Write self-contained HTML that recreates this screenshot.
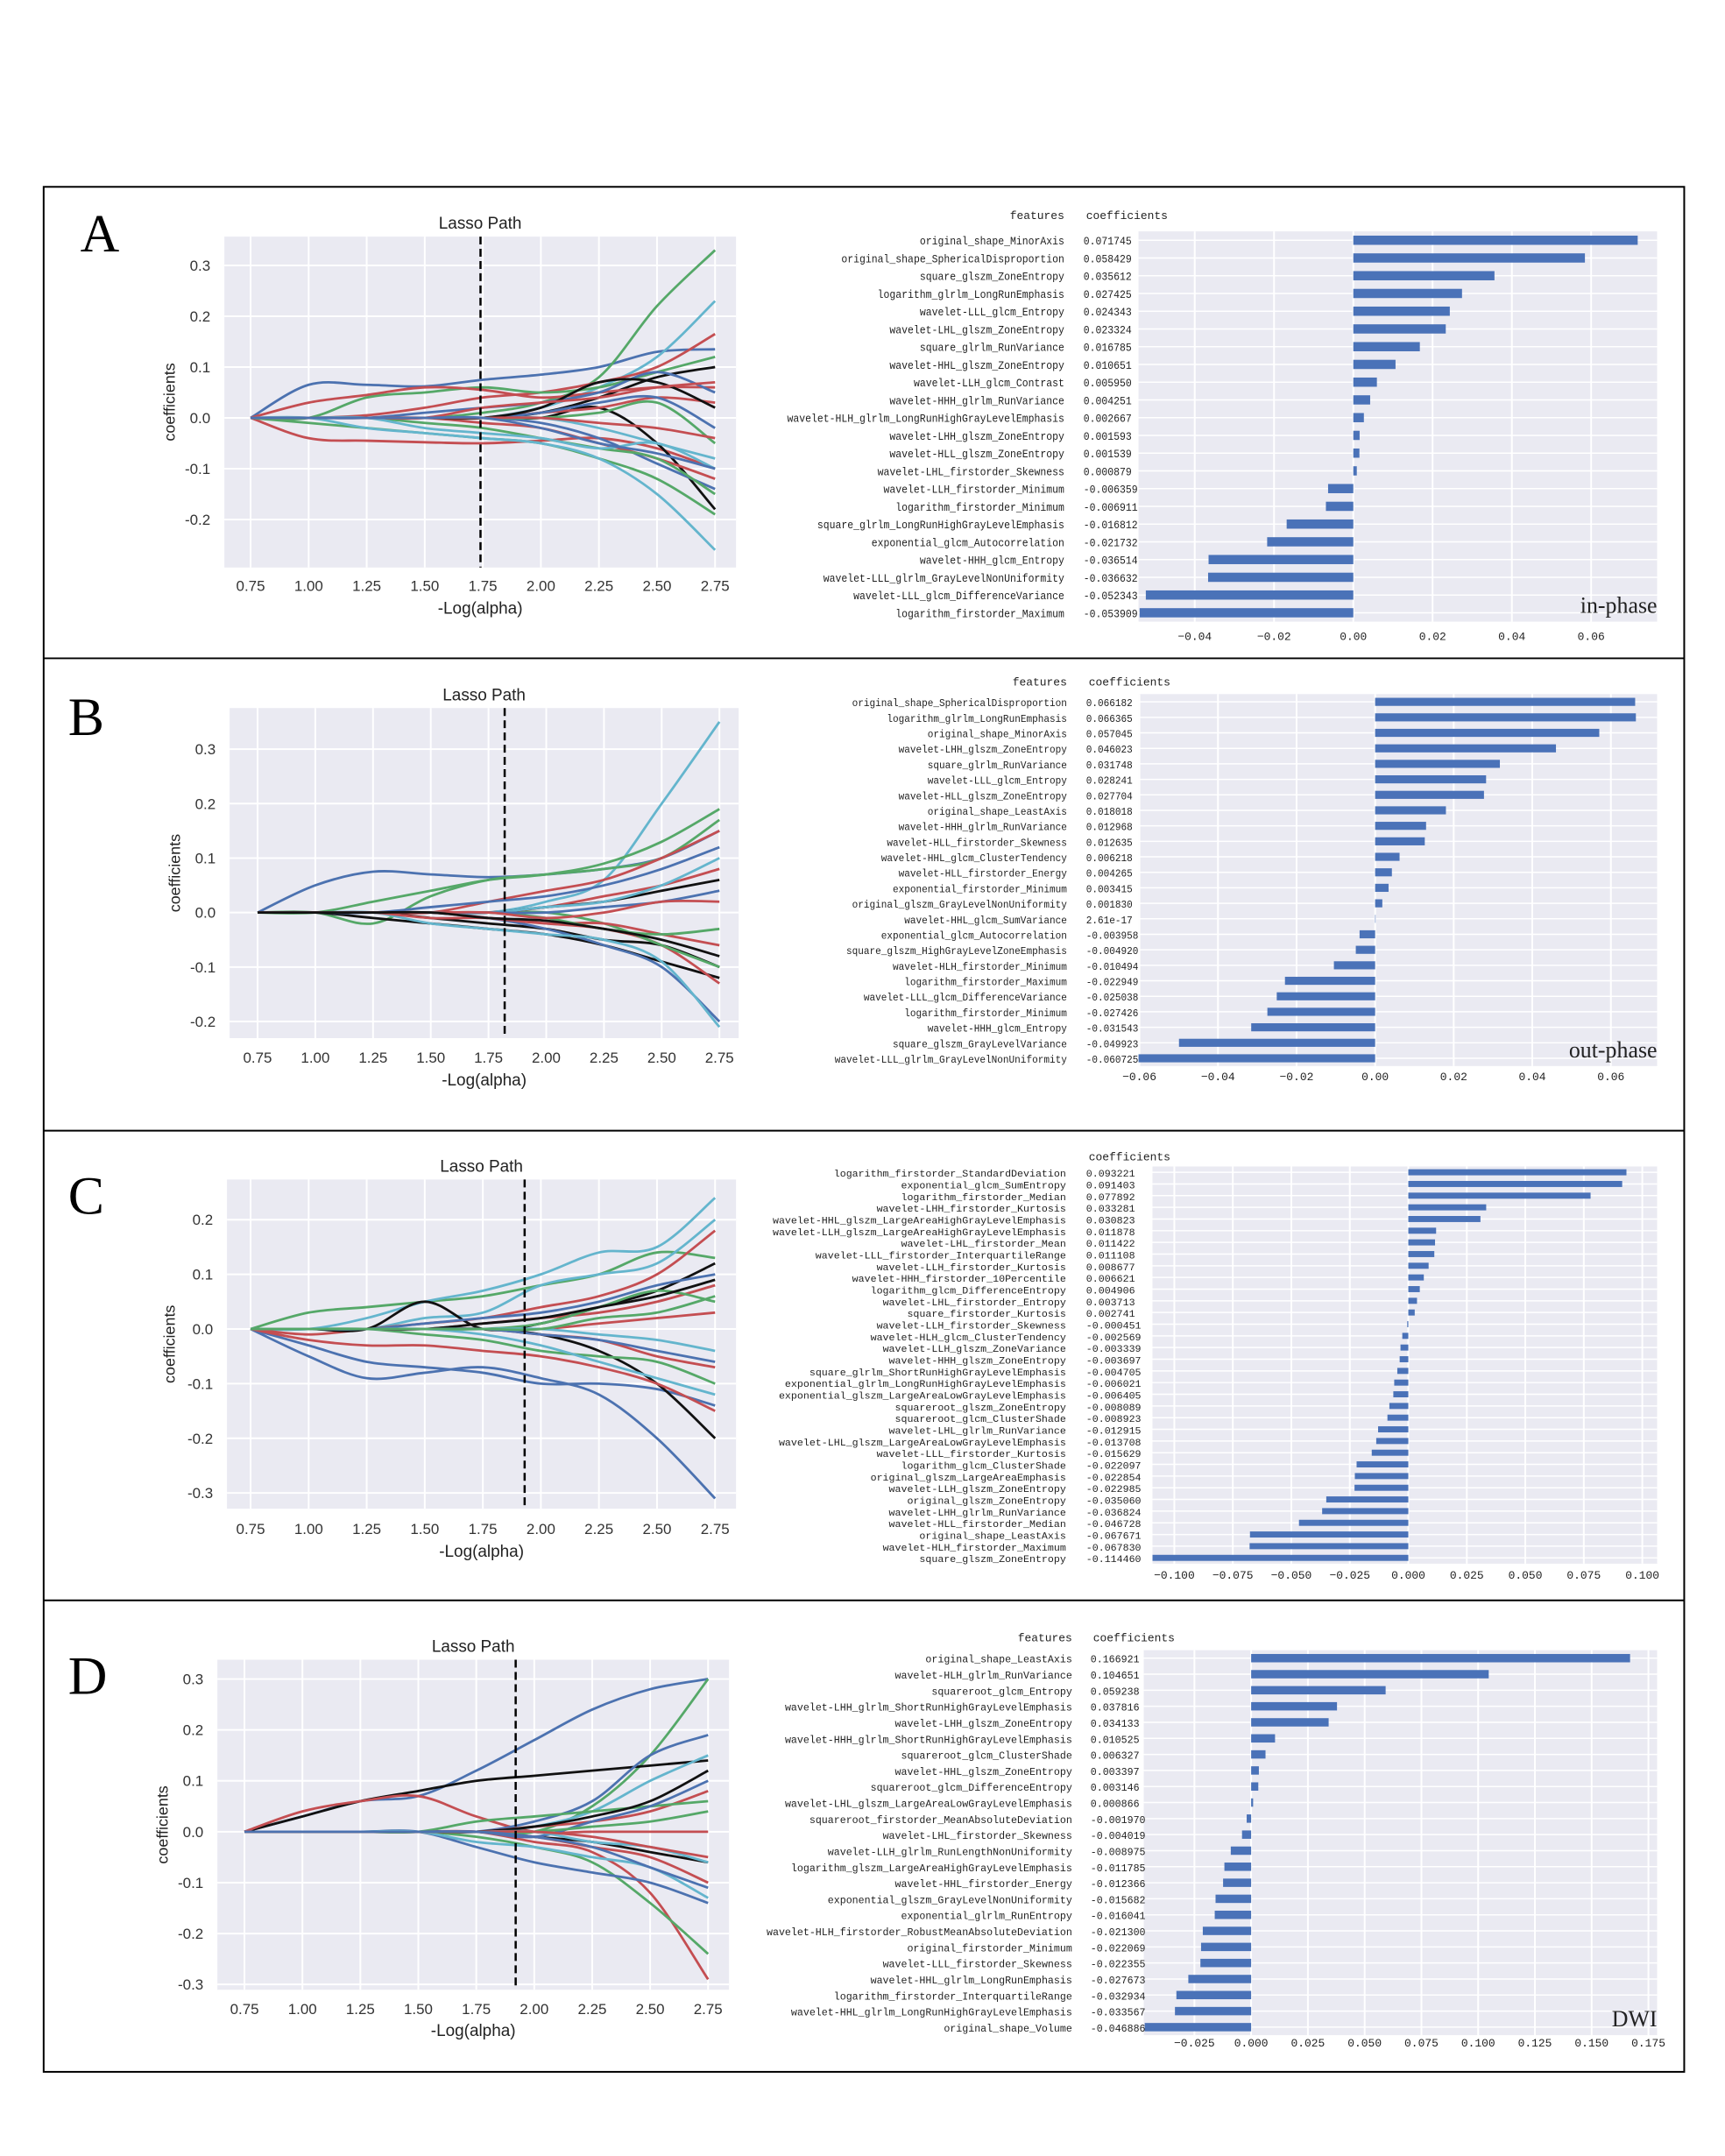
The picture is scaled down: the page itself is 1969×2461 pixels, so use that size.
<!DOCTYPE html>
<html><head><meta charset="utf-8"><style>
html,body{margin:0;padding:0;background:#fff;}
svg{display:block;}
</style></head><body>
<svg xmlns="http://www.w3.org/2000/svg" width="1969" height="2461" viewBox="0 0 1969 2461">
<rect x="0" y="0" width="1969" height="2461" fill="#fff"/>
<g id="fig" transform="scale(0.9966)">
<rect x="50" y="214" width="1879" height="2159" fill="none" stroke="#000" stroke-width="2"/>
<line x1="50" y1="754" x2="1929" y2="754" stroke="#000" stroke-width="2"/>
<line x1="50" y1="1295" x2="1929" y2="1295" stroke="#000" stroke-width="2"/>
<line x1="50" y1="1833" x2="1929" y2="1833" stroke="#000" stroke-width="2"/>
<text x="92" y="288" font-family="Liberation Serif, serif" font-size="62">A</text>
<text x="78" y="842" font-family="Liberation Serif, serif" font-size="62">B</text>
<text x="78" y="1390" font-family="Liberation Serif, serif" font-size="62">C</text>
<text x="78" y="1940" font-family="Liberation Serif, serif" font-size="62">D</text>
</g>
</svg>
<script>
const lassoX = [0.75,1.0,1.25,1.5,1.75,2.0,2.25,2.5,2.75];
const aColors = ['b','g','l','r','g','k','r','r','g','l','k','b','b','r','r','g','l','b','k','r','g','l','r','b'];
const aPaths = [
[0,0.065,0.065,0.062,0.075,0.085,0.1,0.13,0.135],[0,0,0,0,0.01,0.03,0.08,0.22,0.33],[0,0,0,0,0,0.02,0.06,0.12,0.23],
[0,0,0.005,0.02,0.04,0.05,0.07,0.1,0.165],[0,0,0.04,0.05,0.06,0.05,0.06,0.09,0.12],[0,0,0,0,0,0.01,0.04,0.08,0.1],
[0,0.03,0.045,0.06,0.055,0.04,0.05,0.06,0.06],[0,-0.04,-0.045,-0.048,-0.05,-0.045,-0.04,-0.06,-0.1],[0,-0.01,-0.02,-0.03,-0.04,-0.05,-0.08,-0.12,-0.19],
[0,0,-0.02,-0.03,-0.04,-0.05,-0.08,-0.15,-0.26],[0,0,0,0,0,0,0.02,-0.05,-0.18],[0,0,0,0,0,-0.01,-0.04,-0.09,-0.14],
[0,0,0,0.01,0.02,0.03,0.05,0.09,0.05],[0,0,0,0,0,0.01,0.02,0.04,0.03],[0,0,0,0,-0.01,-0.02,-0.05,-0.08,-0.12],
[0,0,0,-0.01,-0.02,-0.04,-0.06,-0.08,-0.15],[0,0,0,0,0,0,-0.02,-0.05,-0.08],[0,0,0,0,0,0.01,0.03,0.04,-0.02],
[0,0,0,0,0,0.02,0.07,0.07,0.02],[0,0,0,0,0.02,0.03,0.04,0.06,0.07],[0,0,0,0,0,0,0.01,0.03,-0.05],
[0,0,0,-0.02,-0.03,-0.04,-0.06,-0.05,-0.1],[0,0,0,0,0,0,-0.01,-0.02,-0.04],[0,0,0,0,0,-0.02,-0.05,-0.07,-0.1]];
const bColors = ['b','l','g','g','r','k','k','b','l','r','g','r','b','k','r','l','g','b','r','k'];
const bPaths = [
[0,0.05,0.075,0.07,0.065,0.07,0.08,0.1,0.15],[0,0,0,0,0,0.02,0.06,0.2,0.35],[0,0,0.02,0.04,0.06,0.07,0.09,0.13,0.19],
[0,0,-0.02,0.03,0.06,0.07,0.08,0.1,0.17],[0,0,0,0,0.02,0.04,0.06,0.1,0.15],[0,0,-0.01,-0.02,-0.03,-0.04,-0.06,-0.09,-0.12],
[0,0,0,-0.01,-0.02,-0.03,-0.05,-0.06,-0.1],[0,0,0,0,-0.01,-0.03,-0.06,-0.1,-0.2],[0,0,0,-0.02,-0.03,-0.04,-0.05,-0.09,-0.21],
[0,0,0,-0.01,-0.01,-0.02,-0.03,-0.06,-0.13],[0,0,0,0,0,0,-0.02,-0.06,-0.1],[0,0,0,0,0,0.01,0.03,0.05,0.08],
[0,0,0,0.01,0.02,0.03,0.05,0.08,0.12],[0,0,0,0,0,0.01,0.02,0.04,0.06],[0,0,0,0,-0.01,-0.02,-0.02,-0.04,-0.06],
[0,0,0,0,0,0.01,0.02,0.05,0.1],[0,0,0,0,0,-0.01,-0.03,-0.04,-0.03],[0,0,0,0,0,0,0.01,0.02,0.04],
[0,0,0,0,0,-0.01,0,0.02,0.02],[0,0,0,0,-0.01,-0.015,-0.03,-0.05,-0.08]];
const cColors = ['b','b','g','l','l','r','k','k','r','g','r','b','l','r','g','k','b','r','l','g'];
const cPaths = [
[0,-0.05,-0.09,-0.08,-0.07,-0.09,-0.12,-0.2,-0.31],[0,-0.03,-0.06,-0.07,-0.08,-0.1,-0.1,-0.11,-0.14],[0,0.03,0.04,0.05,0.06,0.08,0.1,0.14,0.13],
[0,0,0.02,0.05,0.07,0.1,0.14,0.15,0.24],[0,0,0,0.02,0.03,0.08,0.1,0.12,0.2],[0,-0.01,0,0.01,0.02,0.04,0.06,0.1,0.18],
[0,0,0,0.05,0,0.01,0.04,0.07,0.12],[0,0,0,0,0,-0.01,-0.04,-0.1,-0.2],[0,-0.02,-0.03,-0.03,-0.04,-0.05,-0.07,-0.1,-0.15],
[0,0,0,-0.01,-0.02,-0.04,-0.05,-0.06,-0.1],[0,0,0,0,0.01,0.02,0.03,0.05,0.08],[0,0,0,0.01,0.02,0.03,0.05,0.08,0.1],
[0,0,0,0,-0.01,-0.03,-0.06,-0.09,-0.12],[0,0,0,0,0,-0.01,-0.02,-0.05,-0.07],[0,0,0,0,0,0.01,0.04,0.07,0.05],
[0,0,0,0,0.01,0.02,0.04,0.06,0.09],[0,0,0,0,0,-0.01,-0.02,-0.04,-0.06],[0,0,0,0,0,0,0.01,0.02,0.03],
[0,0,0,0,0,0,-0.01,-0.02,-0.04],[0,0,0,0,0,0,0.02,0.03,0.06]];
const dColors = ['b','g','k','r','b','l','r','g','b','l','k','r','g','b','r','k','l','g','r','b'];
const dPaths = [
[0,0.03,0.06,0.07,0.12,0.18,0.24,0.28,0.3],[0,0,0,0,0,0,0.05,0.15,0.3],[0,0.03,0.06,0.08,0.1,0.11,0.12,0.13,0.14],
[0,0.04,0.06,0.07,0.03,0,0,0,0],[0,0,0,0,0,0.02,0.06,0.15,0.19],[0,0,0,0,0,0.01,0.04,0.1,0.15],
[0,0,0,0,0,-0.02,-0.04,-0.12,-0.29],[0,0,0,0,-0.01,-0.03,-0.06,-0.14,-0.24],[0,0,0,0,-0.03,-0.06,-0.08,-0.1,-0.14],
[0,0,0,0,-0.02,-0.03,-0.05,-0.07,-0.13],[0,0,0,0,0,-0.01,-0.02,-0.04,-0.06],[0,0,0,0,0,0.01,0.02,0.04,0.08],
[0,0,0,0,0.02,0.03,0.04,0.05,0.06],[0,0,0,0,0,-0.01,0.02,0.05,0.1],[0,0,0,0,0,-0.01,-0.03,-0.05,-0.1],
[0,0,0,0,0,0.01,0.03,0.06,0.12],[0,0,0,0,0,0,-0.02,-0.03,-0.06],[0,0,0,0,0,0,0.01,0.02,0.04],
[0,0,0,0,0,0,-0.01,-0.03,-0.05],[0,0,0,0,0,-0.01,-0.03,-0.07,-0.11]];
const lassoXTicks = [0.75,1.0,1.25,1.5,1.75,2.0,2.25,2.5,2.75];
const aYTicks = [-0.2,-0.1,0.0,0.1,0.2,0.3];
const bYTicks = [-0.2,-0.1,0.0,0.1,0.2,0.3];
const cYTicks = [-0.3,-0.2,-0.1,0.0,0.1,0.2];
const dYTicks = [-0.3,-0.2,-0.1,0.0,0.1,0.2,0.3];
const alphaCut = [1.74,1.82,1.93,1.92];

const aFeatures = ['original_shape_MinorAxis','original_shape_SphericalDisproportion','square_glszm_ZoneEntropy','logarithm_glrlm_LongRunEmphasis','wavelet-LLL_glcm_Entropy','wavelet-LHL_glszm_ZoneEntropy','square_glrlm_RunVariance','wavelet-HHL_glszm_ZoneEntropy','wavelet-LLH_glcm_Contrast','wavelet-HHH_glrlm_RunVariance','wavelet-HLH_glrlm_LongRunHighGrayLevelEmphasis','wavelet-LHH_glszm_ZoneEntropy','wavelet-HLL_glszm_ZoneEntropy','wavelet-LHL_firstorder_Skewness','wavelet-LLH_firstorder_Minimum','logarithm_firstorder_Minimum','square_glrlm_LongRunHighGrayLevelEmphasis','exponential_glcm_Autocorrelation','wavelet-HHH_glcm_Entropy','wavelet-LLL_glrlm_GrayLevelNonUniformity','wavelet-LLL_glcm_DifferenceVariance','logarithm_firstorder_Maximum'];
const aCoefs = [0.071745,0.058429,0.035612,0.027425,0.024343,0.023324,0.016785,0.010651,0.005950,0.004251,0.002667,0.001593,0.001539,0.000879,-0.006359,-0.006911,-0.016812,-0.021732,-0.036514,-0.036632,-0.052343,-0.053909];
const bFeatures = ['original_shape_SphericalDisproportion','logarithm_glrlm_LongRunEmphasis','original_shape_MinorAxis','wavelet-LHH_glszm_ZoneEntropy','square_glrlm_RunVariance','wavelet-LLL_glcm_Entropy','wavelet-HLL_glszm_ZoneEntropy','original_shape_LeastAxis','wavelet-HHH_glrlm_RunVariance','wavelet-HLL_firstorder_Skewness','wavelet-HHL_glcm_ClusterTendency','wavelet-HLL_firstorder_Energy','exponential_firstorder_Minimum','original_glszm_GrayLevelNonUniformity','wavelet-HHL_glcm_SumVariance','exponential_glcm_Autocorrelation','square_glszm_HighGrayLevelZoneEmphasis','wavelet-HLH_firstorder_Minimum','logarithm_firstorder_Maximum','wavelet-LLL_glcm_DifferenceVariance','logarithm_firstorder_Minimum','wavelet-HHH_glcm_Entropy','square_glszm_GrayLevelVariance','wavelet-LLL_glrlm_GrayLevelNonUniformity'];
const bCoefs = [0.066182,0.066365,0.057045,0.046023,0.031748,0.028241,0.027704,0.018018,0.012968,0.012635,0.006218,0.004265,0.003415,0.001830,2.61e-17,-0.003958,-0.004920,-0.010494,-0.022949,-0.025038,-0.027426,-0.031543,-0.049923,-0.060725];
const bLabels = ['0.066182','0.066365','0.057045','0.046023','0.031748','0.028241','0.027704','0.018018','0.012968','0.012635','0.006218','0.004265','0.003415','0.001830','2.61e-17','-0.003958','-0.004920','-0.010494','-0.022949','-0.025038','-0.027426','-0.031543','-0.049923','-0.060725'];
const cFeatures = ['logarithm_firstorder_StandardDeviation','exponential_glcm_SumEntropy','logarithm_firstorder_Median','wavelet-LHH_firstorder_Kurtosis','wavelet-HHL_glszm_LargeAreaHighGrayLevelEmphasis','wavelet-LLH_glszm_LargeAreaHighGrayLevelEmphasis','wavelet-LHL_firstorder_Mean','wavelet-LLL_firstorder_InterquartileRange','wavelet-LLH_firstorder_Kurtosis','wavelet-HHH_firstorder_10Percentile','logarithm_glcm_DifferenceEntropy','wavelet-LHL_firstorder_Entropy','square_firstorder_Kurtosis','wavelet-LLH_firstorder_Skewness','wavelet-HLH_glcm_ClusterTendency','wavelet-LLH_glszm_ZoneVariance','wavelet-HHH_glszm_ZoneEntropy','square_glrlm_ShortRunHighGrayLevelEmphasis','exponential_glrlm_LongRunHighGrayLevelEmphasis','exponential_glszm_LargeAreaLowGrayLevelEmphasis','squareroot_glszm_ZoneEntropy','squareroot_glcm_ClusterShade','wavelet-LHL_glrlm_RunVariance','wavelet-LHL_glszm_LargeAreaLowGrayLevelEmphasis','wavelet-LLL_firstorder_Kurtosis','logarithm_glcm_ClusterShade','original_glszm_LargeAreaEmphasis','wavelet-LLH_glszm_ZoneEntropy','original_glszm_ZoneEntropy','wavelet-LHH_glrlm_RunVariance','wavelet-HLL_firstorder_Median','original_shape_LeastAxis','wavelet-HLH_firstorder_Maximum','square_glszm_ZoneEntropy'];
const cCoefs = [0.093221,0.091403,0.077892,0.033281,0.030823,0.011878,0.011422,0.011108,0.008677,0.006621,0.004906,0.003713,0.002741,-0.000451,-0.002569,-0.003339,-0.003697,-0.004705,-0.006021,-0.006405,-0.008089,-0.008923,-0.012915,-0.013708,-0.015629,-0.022097,-0.022854,-0.022985,-0.035060,-0.036824,-0.046728,-0.067671,-0.067830,-0.114460];
const dFeatures = ['original_shape_LeastAxis','wavelet-HLH_glrlm_RunVariance','squareroot_glcm_Entropy','wavelet-LHH_glrlm_ShortRunHighGrayLevelEmphasis','wavelet-LHH_glszm_ZoneEntropy','wavelet-HHH_glrlm_ShortRunHighGrayLevelEmphasis','squareroot_glcm_ClusterShade','wavelet-HHL_glszm_ZoneEntropy','squareroot_glcm_DifferenceEntropy','wavelet-LHL_glszm_LargeAreaLowGrayLevelEmphasis','squareroot_firstorder_MeanAbsoluteDeviation','wavelet-LHL_firstorder_Skewness','wavelet-LLH_glrlm_RunLengthNonUniformity','logarithm_glszm_LargeAreaHighGrayLevelEmphasis','wavelet-HHL_firstorder_Energy','exponential_glszm_GrayLevelNonUniformity','exponential_glrlm_RunEntropy','wavelet-HLH_firstorder_RobustMeanAbsoluteDeviation','original_firstorder_Minimum','wavelet-LLL_firstorder_Skewness','wavelet-HHL_glrlm_LongRunEmphasis','logarithm_firstorder_InterquartileRange','wavelet-HHL_glrlm_LongRunHighGrayLevelEmphasis','original_shape_Volume'];
const dCoefs = [0.166921,0.104651,0.059238,0.037816,0.034133,0.010525,0.006327,0.003397,0.003146,0.000866,-0.001970,-0.004019,-0.008975,-0.011785,-0.012366,-0.015682,-0.016041,-0.021300,-0.022069,-0.022355,-0.027673,-0.032934,-0.033567,-0.046886];
const aXTicks = [-0.04,-0.02,0.0,0.02,0.04,0.06];
const bXTicks = [-0.06,-0.04,-0.02,0.0,0.02,0.04,0.06];
const cXTicks = [-0.1,-0.075,-0.05,-0.025,0.0,0.025,0.05,0.075,0.1];
const dXTicks = [-0.025,0.0,0.025,0.05,0.075,0.1,0.125,0.15,0.175];

const NS='http://www.w3.org/2000/svg';
const svg=document.getElementById('fig');
const COL={b:'#4c72b0',g:'#55a868',r:'#c44e52',l:'#64b5cd',k:'#111111'};
function mk(tag,attrs,parent){const e=document.createElementNS(NS,tag);for(const k in attrs)e.setAttribute(k,attrs[k]);(parent||svg).appendChild(e);return e;}
function txt(s,attrs,parent){const e=mk('text',attrs,parent);e.textContent=s;return e;}

function lasso(cfg,paths,colors,yTicks,cut,key){
  const g=mk('g',{});
  
  
  const sx=v=>cfg.x0+(v-0.75)*(cfg.x1-cfg.x0)/2.0;
  const sy=v=>cfg.yz+(-v)*cfg.k;
  const bg=mk('rect',{x:cfg.L,y:cfg.T,width:cfg.R-cfg.L,height:cfg.B-cfg.T,fill:'#eaeaf2'},g);
  
  
  lassoXTicks.forEach(t=>{mk('line',{x1:sx(t),x2:sx(t),y1:cfg.T,y2:cfg.B,stroke:'#fff','stroke-width':2},g);
    const tl=txt(t.toFixed(2),{x:sx(t),y:cfg.xl,'font-family':'Liberation Sans, sans-serif','font-size':17,'text-anchor':'middle',fill:'#333'},g);
    
    });
  yTicks.forEach(t=>{mk('line',{x1:cfg.L,x2:cfg.R,y1:sy(t),y2:sy(t),stroke:'#fff','stroke-width':2},g);
    const tl=txt(t.toFixed(1),{x:cfg.L-16,y:sy(t)+6,'font-family':'Liberation Sans, sans-serif','font-size':17,'text-anchor':'end',fill:'#333'},g);
    
    });
  const clip='clip'+key;
  const cp=mk('clipPath',{id:clip},g);mk('rect',{x:cfg.L,y:cfg.T,width:cfg.R-cfg.L,height:cfg.B-cfg.T},cp);
  const lg=mk('g',{'clip-path':'url(#'+clip+')'},g);
  paths.forEach((p,i)=>{
    const pts=p.map((v,j)=>[sx(lassoX[j]),sy(v)]);
    let d='M'+pts[0][0]+','+pts[0][1];
    for(let j=0;j<pts.length-1;j++){
      const p0=pts[Math.max(0,j-1)],p1=pts[j],p2=pts[j+1],p3=pts[Math.min(pts.length-1,j+2)];
      const c1=[p1[0]+(p2[0]-p0[0])/6,p1[1]+(p2[1]-p0[1])/6],c2=[p2[0]-(p3[0]-p1[0])/6,p2[1]-(p3[1]-p1[1])/6];
      d+=' C'+c1[0]+','+c1[1]+' '+c2[0]+','+c2[1]+' '+p2[0]+','+p2[1];
    }
    const e=mk('path',{d:d,fill:'none',stroke:COL[colors[i]],'stroke-width':2.8},lg);
    
    
  });
  const dl=mk('line',{x1:sx(cut),x2:sx(cut),y1:cfg.T,y2:cfg.B,stroke:'#000','stroke-width':2.5,'stroke-dasharray':'9,5'},g);
  
  
  const t=txt('Lasso Path',{x:(cfg.L+cfg.R)/2,y:cfg.ty,'font-family':'Liberation Sans, sans-serif','font-size':19,'text-anchor':'middle',fill:'#222'},g);
  
  
  const xt=txt('-Log(alpha)',{x:(cfg.L+cfg.R)/2,y:cfg.xt,'font-family':'Liberation Sans, sans-serif','font-size':19,'text-anchor':'middle',fill:'#222'},g);
  
  
  const yt=txt('coefficients',{x:0,y:0,transform:'translate('+cfg.yx+','+((cfg.T+cfg.B)/2)+') rotate(-90)','font-family':'Liberation Sans, sans-serif','font-size':18,'text-anchor':'middle',fill:'#222'},g);
  
  
}

function bars(cfg,feats,coefs,labels,ticks,key){
  const g=mk('g',{});
  
  
  const sx=v=>cfg.z+v*cfg.k;
  const bg=mk('rect',{x:cfg.L,y:cfg.T,width:cfg.R-cfg.L,height:cfg.B-cfg.T,fill:'#eaeaf2'},g);
  
  
  const n=coefs.length, band=(cfg.B-cfg.T)/n;
  for(let i=0;i<n;i++) mk('line',{x1:cfg.L,x2:cfg.R,y1:cfg.T+band*(i+0.5),y2:cfg.T+band*(i+0.5),stroke:'#fff','stroke-width':1.5},g);
  ticks.forEach(t=>{mk('line',{x1:sx(t),x2:sx(t),y1:cfg.T,y2:cfg.B,stroke:'#fff','stroke-width':2},g);
    let s=cfg.fmt(t);
    const tl=txt(s,{x:sx(t),y:cfg.xl,'font-family':'Liberation Mono, monospace','font-size':13,'text-anchor':'middle',fill:'#222'},g);
    
    });
  coefs.forEach((v,i)=>{
    const cy=cfg.T+band*(i+0.5), h=band*0.52;
    const x0=Math.max(cfg.L,Math.min(sx(0),sx(v)));const x1=Math.max(sx(0),sx(v));
    const r=mk('rect',{x:x0,y:cy-h/2,width:Math.max(0.5,x1-x0),height:h,fill:'#4a72b8'},g);
    
    
    const f=feats[i];
    const ft=txt(f,{x:cfg.fx,y:cy+5,'font-family':'Liberation Mono, monospace','font-size':cfg.fs,'text-anchor':'end',textLength:f.length*cfg.cw,lengthAdjust:'spacingAndGlyphs',fill:'#222'},g);
    
    
    const s=labels?labels[i]:(v<0?'-':'')+Math.abs(v).toFixed(6);
    const vt=txt(s,{x:cfg.vx,y:cy+5,'font-family':'Liberation Mono, monospace','font-size':cfg.fs,textLength:s.length*cfg.cw,lengthAdjust:'spacingAndGlyphs',fill:'#222'},g);
    
    
  });
  if(cfg.fh){const h=txt('features',{x:cfg.fx,y:cfg.hy,'font-family':'Liberation Mono, monospace','font-size':13,'text-anchor':'end',fill:'#222'},g);
    
    }
  const h2=txt('coefficients',{x:cfg.vx+3,y:cfg.hy,'font-family':'Liberation Mono, monospace','font-size':13,fill:'#222'},g);
  
  
  if(cfg.tag){const c=txt(cfg.tag,{x:cfg.R,y:cfg.B-10,'font-family':'Liberation Serif, Noto Serif CJK SC, serif','font-size':26,'text-anchor':'end',fill:'#222'},g);
    
    }
}

lasso({L:257,R:843,T:271,B:650,x0:287,x1:819,yz:478.6,k:582,xl:677,xt:703,ty:262,yx:200},aPaths,aColors,aYTicks,alphaCut[0],'a');
lasso({L:263,R:846,T:811,B:1189,x0:295,x1:824,yz:1045.2,k:624,xl:1217,xt:1243,ty:802,yx:206},bPaths,bColors,bYTicks,alphaCut[1],'b');
lasso({L:260,R:843,T:1351,B:1728,x0:287,x1:819,yz:1522.2,k:626,xl:1757,xt:1783,ty:1342,yx:200},cPaths,cColors,cYTicks,alphaCut[2],'c');
lasso({L:249,R:835,T:1901,B:2279,x0:280,x1:811,yz:2098,k:583,xl:2307,xt:2332,ty:1892,yx:192},dPaths,dColors,dYTicks,alphaCut[3],'d');

const f2=t=>(t<0?'\u22120.':'0.')+Math.abs(t).toFixed(2).slice(2);
const f3=t=>(t<0?'\u2212':'')+Math.abs(t).toFixed(3);
bars({L:1304,R:1898,T:265,B:712,z:1550,k:4540,xl:733,fx:1219,vx:1241,fs:13,cw:6.9,hy:251,fh:true,tag:'in-phase',fmt:f2},aFeatures,aCoefs,null,aXTicks,'a');
bars({L:1304,R:1898,T:795,B:1221,z:1575,k:4500,xl:1237,fx:1222,vx:1244,fs:12,cw:6.65,hy:785,fh:true,tag:'out-phase',fmt:f2},bFeatures,bCoefs,bLabels,bXTicks,'b');
bars({L:1320,R:1898,T:1336,B:1791,z:1613,k:2680,xl:1808,fx:1221,vx:1244,fs:11,cw:7.0,hy:1329,fh:false,tag:'',fmt:f3},cFeatures,cCoefs,null,cXTicks,'c');
bars({L:1310,R:1898,T:1890,B:2331,z:1433,k:2600,xl:2344,fx:1228,vx:1249,fs:12,cw:7.0,hy:1880,fh:true,tag:'DWI',fmt:f3},dFeatures,dCoefs,null,dXTicks,'d');
</script>
</body></html>
